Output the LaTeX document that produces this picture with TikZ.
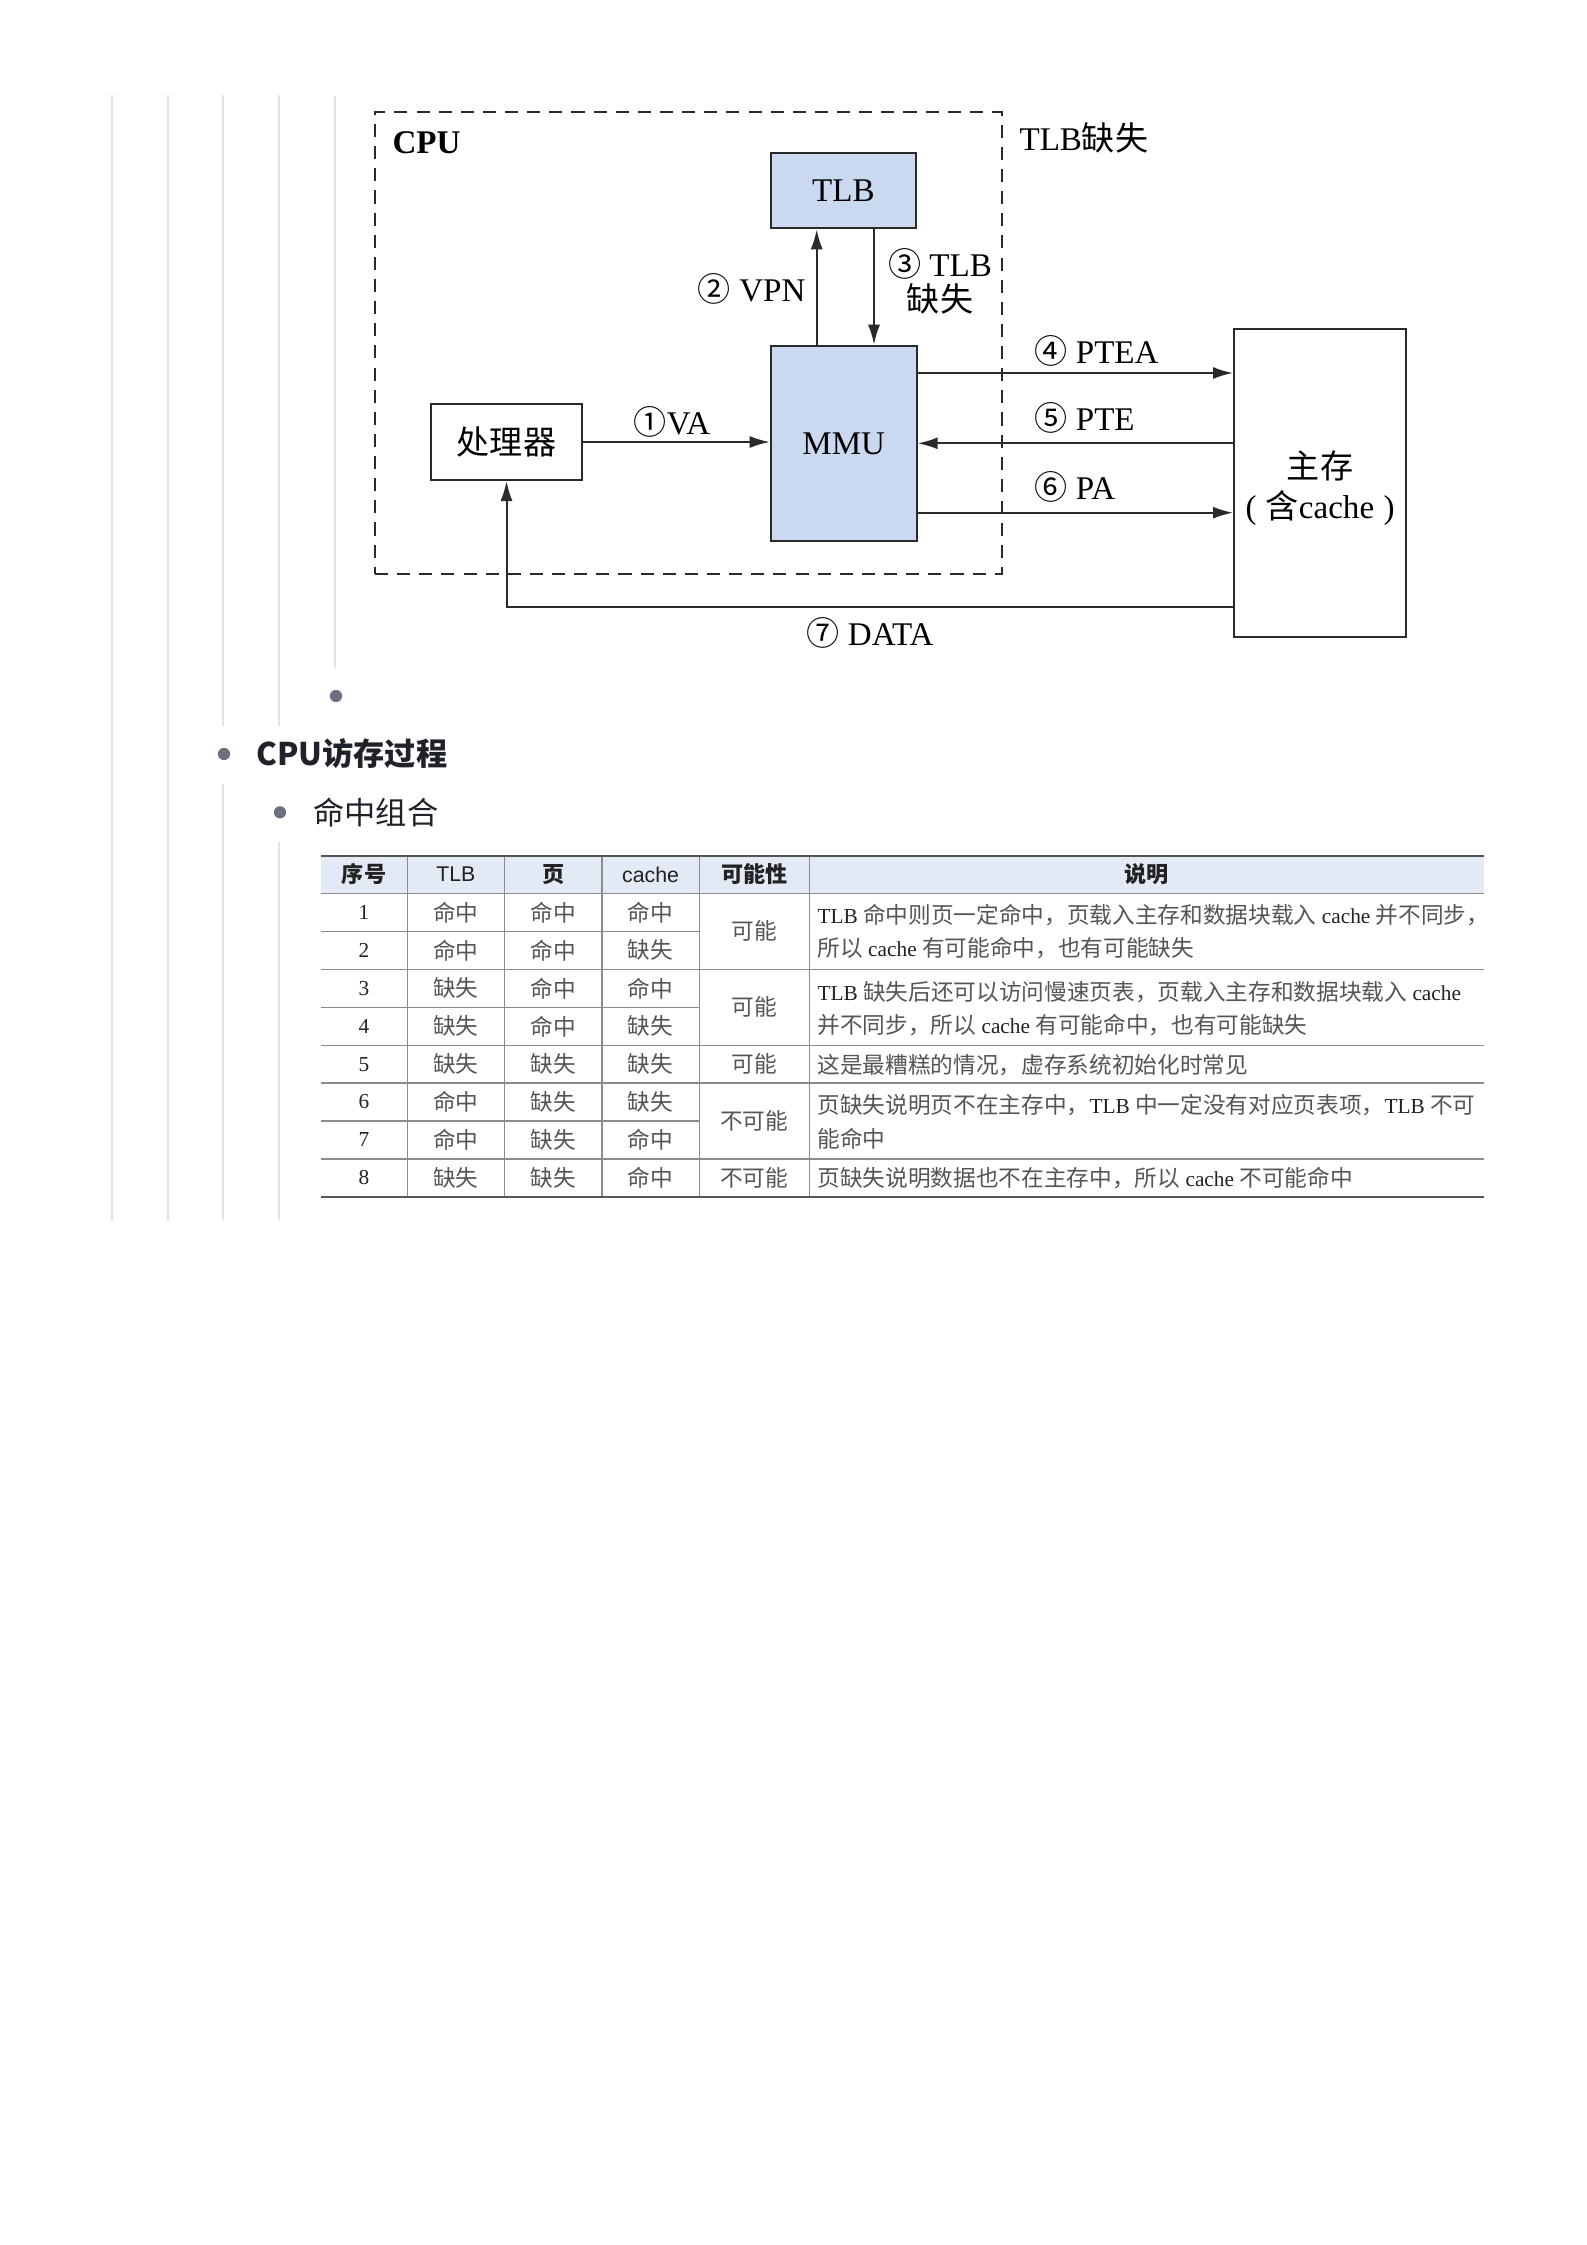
\documentclass[tikz,border=0pt]{standalone}
\usepackage{fontspec}
\setmainfont{Liberation Serif}
\newfontfamily\cjk{Noto Sans CJK SC}
\newfontfamily\hsans{Liberation Sans}
\usetikzlibrary{arrows.meta,fit}

\definecolor{guide}{HTML}{E1E2E8}
\definecolor{bul}{HTML}{6B7080}
\definecolor{ink}{HTML}{1F2329}
\definecolor{boxfill}{HTML}{CAD9EF}
\definecolor{lineclr}{HTML}{2A2A2A}
\definecolor{hdrfill}{HTML}{E3EAF6}
\definecolor{tabrule}{HTML}{8C8C8C}
\definecolor{tabedge}{HTML}{555555}
\definecolor{tabcj}{HTML}{555555}
\definecolor{tabtxt}{HTML}{222222}

\newcommand\cj[1]{{\cjk #1}}
\newcommand\cjg[1]{{\cjk\fontsize{8.5pt}{10pt}\selectfont\color{tabcj}#1}}
\newcommand\cjh[1]{{\cjk\bfseries\fontsize{8.3pt}{10pt}\selectfont\color{tabtxt}#1}}
\newcommand\dfont{\fontsize{12.4pt}{15pt}\selectfont}
\newcommand\tfont{\fontsize{8pt}{10pt}\selectfont}
\newcommand\bfont{\fontsize{11.7pt}{14pt}\selectfont}

\begin{document}
\begin{tikzpicture}[x=0.375pt,y=-0.375pt,
  box/.style={draw=lineclr,line width=0.75pt,inner sep=0pt,font=\dfont},
  bluebox/.style={box,fill=boxfill},
  sz/.style 2 args={minimum width=#1*0.375pt,minimum height=#2*0.375pt},
  dashedbox/.style={draw=lineclr,line width=0.75pt,dash pattern=on 4.9pt off 3.4pt,inner sep=0pt},
  arr/.style={draw=lineclr,line width=0.75pt,-{Latex[length=7.5pt,width=4.5pt]}},
  lbl/.style={inner sep=0pt,font=\dfont,text=black},
  guideline/.style={draw=guide,line width=0.75pt},
  bullet/.style={circle,fill=bul,inner sep=0pt,minimum size=4.6pt},
  pagetext/.style={inner sep=0pt,anchor=west,text=ink,font=\bfont\cjk},
  tcell/.style={inner sep=0pt,font=\tfont,text=tabtxt},
  thead/.style={inner sep=0pt,font=\tfont,text=tabtxt},
  tline/.style={draw=tabrule,line width=0.45pt},
  tedge/.style={draw=tabedge,line width=0.8pt}
]
\useasboundingbox (0,0) rectangle (1586,2245);
\fill[white] (0,0) rectangle (1586,2245);

% guide lines of the outline
\draw[guideline] (111.7,95) -- (111.7,1220);
\draw[guideline] (167.7,95) -- (167.7,1220);
\draw[guideline] (223.3,95) -- (223.3,726);
\draw[guideline] (223.3,784) -- (223.3,1220);
\draw[guideline] (279.3,95) -- (279.3,726);
\draw[guideline] (279.3,842) -- (279.3,1220);
\draw[guideline] (335.3,96) -- (335.3,668);

% ---------------- diagram ----------------
\node[dashedbox, fit={(375,112.3) (1001.7,573.5)}] (cpu) {};
\node[lbl, anchor=west, font=\dfont\bfseries] (cpulbl) at (392,143) {CPU};
\node[lbl, anchor=west] (tlbmiss) at (1019,138) {TLB\cj{缺失}};

\node[box, sz={151}{76}] (proc) at (506.5,442) {\cj{处理器}};
\node[bluebox, sz={145.3}{75.3}] (tlb) at (843.35,190.65) {TLB};
\node[bluebox, sz={146}{195.3}] (mmu) at (843.7,443.35) {MMU};
\node[box, sz={172}{307.4}, align=center,
      font=\fontsize{12.4pt}{15pt}\selectfont] (mem) at (1320,483)
      {\rule{0pt}{14pt}\cj{主存}\\(\hspace{3.5pt}\cj{含}cache\hspace{3.5pt})};

\coordinate (vpnx) at (816.7,0);
\coordinate (missx) at (874,0);
\coordinate (ptea) at (0,373);
\coordinate (pte) at (0,443.3);
\coordinate (pa) at (0,512.7);
\coordinate (data) at (0,606.7);

\draw[arr] (proc.east) -- (proc.east -| mmu.west);
\draw[arr] (mmu.north -| vpnx) -- (tlb.south -| vpnx);
\draw[arr] (tlb.south -| missx) -- (mmu.north -| missx);
\draw[arr] (mmu.east |- ptea) -- (mem.west |- ptea);
\draw[arr] (mem.west |- pte) -- (mmu.east |- pte);
\draw[arr] (mmu.east |- pa) -- (mem.west |- pa);
\draw[arr] (mem.west |- data) -| (proc.south);

\node[lbl] (l1) at (672,422) {\cj{①}VA};
\node[lbl, anchor=east] (l2) at (806,289) {\cj{②} VPN};
\node[lbl, align=center, font=\fontsize{12.4pt}{13.1pt}\selectfont] (l3) at (940,281) {\cj{③} TLB\\\cj{缺失}};
\node[lbl, anchor=west] (l4) at (1034,351) {\cj{④} PTEA};
\node[lbl, anchor=west] (l5) at (1034,418) {\cj{⑤} PTE};
\node[lbl, anchor=west] (l6) at (1034,487) {\cj{⑥} PA};
\node[lbl] (l7) at (870,633) {\cj{⑦} DATA};

% ---------------- outline text ----------------
\node[bullet] (b1) at (336,696) {};
\node[bullet] (b2) at (224,754) {};
\node[pagetext, font=\bfont\cjk\bfseries] (t2) at (256,754) {CPU访存过程};
\node[bullet] (b3) at (280,812.3) {};
\node[pagetext] (t3) at (313,812) {命中组合};

% ---------------- table ----------------
\fill[hdrfill] (320.7,855.7) rectangle (1484,893.3);
\foreach \x in {407.3,504.5,602,699.3,809.3}
  \draw[tline] (\x,855.7) -- (\x,1196.7);
\foreach \y in {893.3,969.3,1045.3,1083,1159}
  \draw[tline] (320.7,\y) -- (1484,\y);
\foreach \y in {931.3,1007.3,1121}
  \draw[tline] (320.7,\y) -- (699.3,\y);
\draw[tedge] (320.7,855.7) -- (1484,855.7);
\draw[tedge] (320.7,1196.7) -- (1484,1196.7);

\node[thead] (h1) at (364,874.5) {\cjh{序号}};
\node[thead] (h2) at (455.9,874.5) {\hsans TLB};
\node[thead] (h3) at (553.25,874.5) {\cjh{页}};
\node[thead] (h4) at (650.65,874.5) {\hsans cache};
\node[thead] (h5) at (754.3,874.5) {\cjh{可能性}};
\node[thead] (h6) at (1146.65,874.5) {\cjh{说明}};

\foreach \y/\n/\a/\b/\c in {912.3/1/命中/命中/命中, 950.3/2/命中/命中/缺失,
   988.3/3/缺失/命中/命中, 1026.3/4/缺失/命中/缺失, 1064.2/5/缺失/缺失/缺失,
   1102/6/命中/缺失/缺失, 1140/7/命中/缺失/命中, 1177.9/8/缺失/缺失/命中} {
  \node[tcell] (n\n) at (364,\y) {\n};
  \node[tcell] (a\n) at (455.9,\y) {\cjg{\a}};
  \node[tcell] (p\n) at (553.25,\y) {\cjg{\b}};
  \node[tcell] (c\n) at (650.65,\y) {\cjg{\c}};
}
\node[tcell] (k12) at (754.3,931.3) {\cjg{可能}};
\node[tcell] (k34) at (754.3,1007.3) {\cjg{可能}};
\node[tcell] (k5) at (754.3,1064.2) {\cjg{可能}};
\node[tcell] (k67) at (754.3,1121) {\cjg{不可能}};
\node[tcell] (k8) at (754.3,1177.9) {\cjg{不可能}};

\node[tcell, anchor=west] (d1a) at (817,915) {TLB \cjg{命中则页一定命中，页载入主存和数据块载入} cache \cjg{并不同步，}};
\node[tcell, anchor=west] (d1b) at (817,948.3) {\cjg{所以} cache \cjg{有可能命中，也有可能缺失}};
\node[tcell, anchor=west] (d3a) at (817,991.7) {TLB \cjg{缺失后还可以访问慢速页表，页载入主存和数据块载入} cache};
\node[tcell, anchor=west] (d3b) at (817,1025) {\cjg{并不同步，所以} cache \cjg{有可能命中，也有可能缺失}};
\node[tcell, anchor=west] (d5) at (817,1065) {\cjg{这是最糟糕的情况，虚存系统初始化时常见}};
\node[tcell, anchor=west] (d6a) at (817,1105) {\cjg{页缺失说明页不在主存中，}TLB \cjg{中一定没有对应页表项，}TLB \cjg{不可}};
\node[tcell, anchor=west] (d6b) at (817,1138.3) {\cjg{能命中}};
\node[tcell, anchor=west] (d8) at (817,1178.3) {\cjg{页缺失说明数据也不在主存中，所以} cache \cjg{不可能命中}};
\end{tikzpicture}
\end{document}
